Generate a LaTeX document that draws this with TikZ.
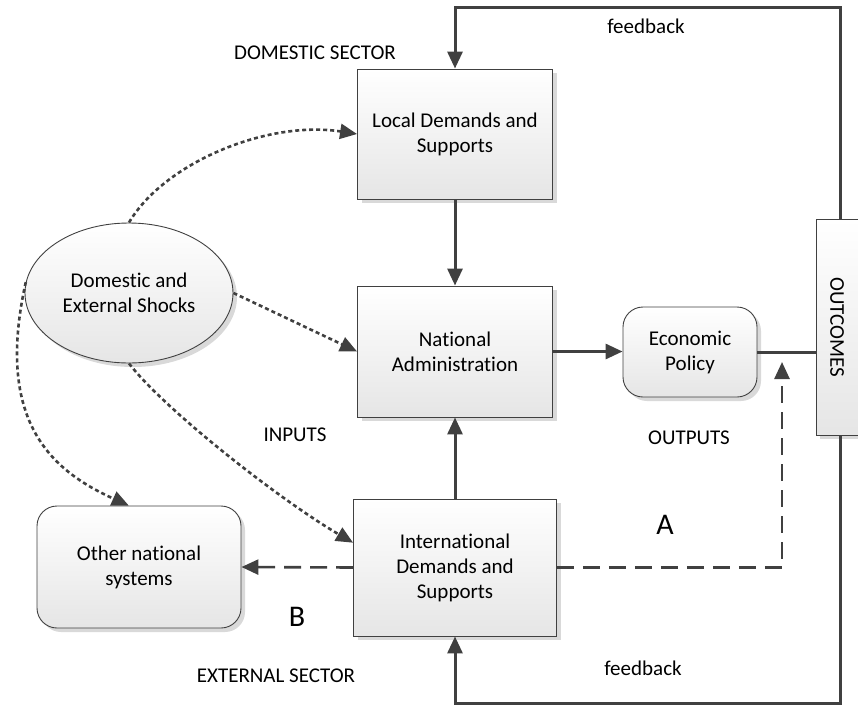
\documentclass[tikz,border=0pt]{standalone}
\usepackage{fontspec}
\setmainfont{Carlito}[Ligatures=NoCommon]
\usetikzlibrary{arrows.meta,shapes.geometric,positioning,calc,shadows}
\definecolor{lineg}{HTML}{404040}

\begin{document}
\begin{tikzpicture}[x=1pt, y=-1pt, font=\fontsize{21}{25}\selectfont,
  block/.style={draw=lineg, line width=0.9pt, top color=white, bottom color=black!10,
    align=center, inner sep=0pt,
    drop shadow={shadow xshift=4pt, shadow yshift=-4pt, fill=black!15, opacity=1}},
  flow/.style={draw=lineg, line width=3pt, -{Triangle[length=17pt,width=15pt]}},
  shockline/.style={draw=lineg, line width=2.6pt, dash pattern=on 4pt off 3pt, -{Triangle[length=17pt,width=15pt]}},
  leak/.style={draw=lineg, line width=2.6pt, dash pattern=on 17pt off 9pt, -{Triangle[length=17pt,width=15pt]}}]
\path[use as bounding box, clip] (0,0) rectangle (858,704);
% boxes
\node[block, minimum width=195pt, minimum height=130pt] (loc) at (455,134) {Local Demands and\\Supports};
\node[block, minimum width=195pt, minimum height=131pt] (natadm) at (455,351.5) {National\\Administration};
\node[block, minimum width=203pt, minimum height=137pt] (intl) at (455,567.5) {International\\Demands and\\Supports};
\node[block, rounded corners=20pt, minimum width=134pt, minimum height=90pt] (econ) at (690,352) {Economic\\Policy};
\node[block, rounded corners=20pt, minimum width=204pt, minimum height=122pt] (other) at (139,567) {Other national\\systems};
\node[block, ellipse, minimum width=208pt, minimum height=140pt] (shock) at (129,293) {Domestic and\\External Shocks};
\node[block, minimum width=48pt, minimum height=216pt] (outc) at (840,327) {};
\node[rotate=-90] (outct) at (837,327) {OUTCOMES};
% labels
\node (fbtxt1) at (646,26) {feedback};
\node (fbtxt2) at (643,668) {feedback};
\node (domsec) at (315,53) {DOMESTIC SECTOR};
\node (extsec) at (276,676) {EXTERNAL SECTOR};
\node (inputs) at (295,435) {INPUTS};
\node (outputs) at (689,438) {OUTPUTS};
\node[font=\fontsize{30}{36}\selectfont] (lblA) at (665,525) {A};
\node[font=\fontsize{30}{36}\selectfont] (lblB) at (297,617) {B};
% connectors
\coordinate (fbtop) at (840,7);
\coordinate (fbbot) at (840,703);
\coordinate (atip) at (782,362);
\draw[flow] (outc.north) -- (fbtop) -| (loc.north);
\draw[flow] (outc.south) -- (fbbot) -| (intl.south);
\draw[flow] (loc) -- (natadm);
\draw[flow] (intl) -- (natadm);
\draw[flow] (natadm.east) -- (natadm.east -| econ.west);
\draw[draw=lineg, line width=3pt] (econ.east) -- (econ.east -| outc.west);
\draw[leak] (intl.east) -| (atip);
\draw[leak] (intl.west) -- (other.east);
% shocks
\draw[shockline] (shock.north) .. controls (164,163) and (267,120) .. (loc.west);
\draw[shockline] (shock.east) -- (natadm.west);
\draw[shockline] (shock.south) .. controls (165,410) and (280,500) .. ($(intl.north west)!0.32!(intl.south west)$);
\draw[shockline] (shock.174) .. controls (-5,420) and (50,470) .. ($(other.north west)!0.45!(other.north east)$);
\end{tikzpicture}
\end{document}
